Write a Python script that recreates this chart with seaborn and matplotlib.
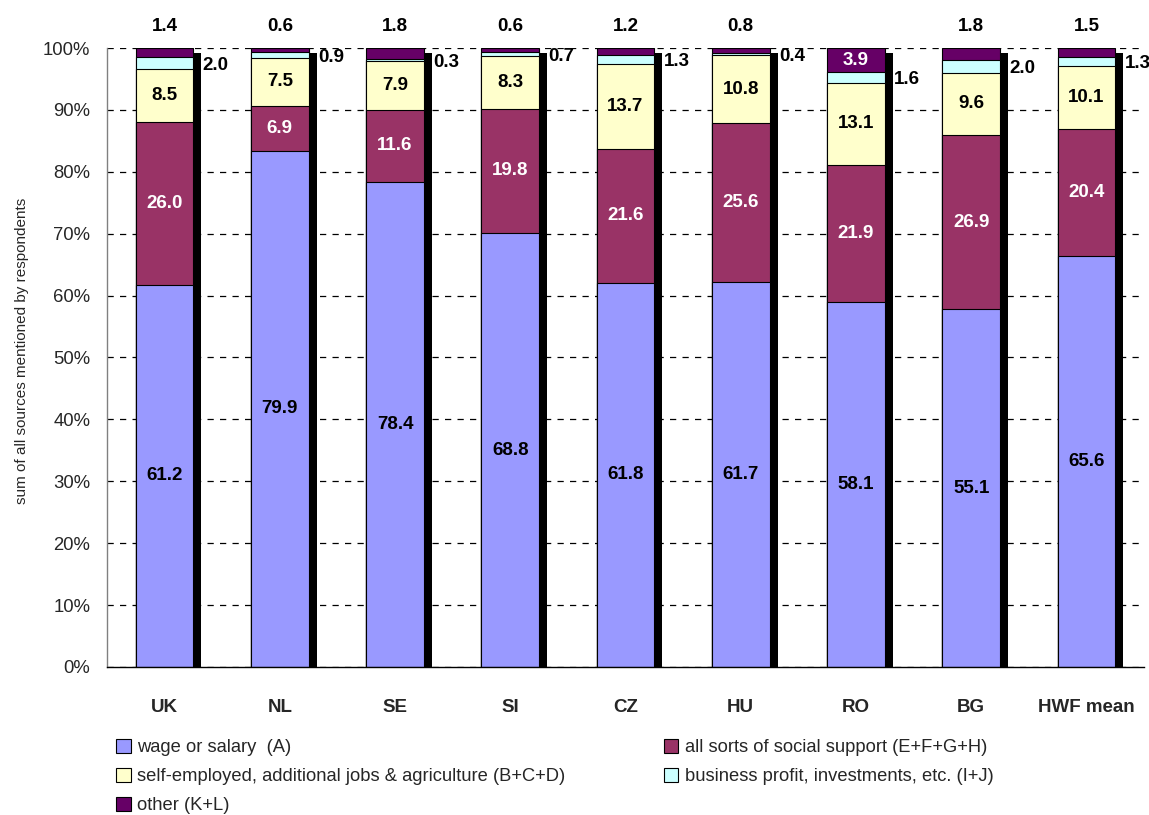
import numpy as np
import pandas as pd
import matplotlib
matplotlib.use("Agg")
import matplotlib.pyplot as plt
import seaborn as sns
from matplotlib.patches import Patch

# Income sources per country (values as reported)
countries = ["UK", "NL", "SE", "SI", "CZ", "HU", "RO", "BG", "HWF mean"]
wage = [61.2, 79.9, 78.4, 68.8, 61.8, 61.7, 58.1, 55.1, 65.6]
social = [26.0, 6.9, 11.6, 19.8, 21.6, 25.6, 21.9, 26.9, 20.4]
selfemp = [8.5, 7.5, 7.9, 8.3, 13.7, 10.8, 13.1, 9.6, 10.1]
business = [2.0, 0.9, 0.3, 0.7, 1.3, 0.4, 1.6, 2.0, 1.3]
other = [1.4, 0.6, 1.8, 0.6, 1.2, 0.8, 3.9, 1.8, 1.5]

series_labels = [
    "wage or salary  (A)",
    "all sorts of social support (E+F+G+H)",
    "self-employed, additional jobs & agriculture (B+C+D)",
    "business profit, investments, etc. (I+J)",
    "other (K+L)",
]
colors = ["#9999FF", "#993366", "#FFFFCC", "#CCFFFF", "#660066"]
label_colors = ["black", "white", "black", "black", "white"]

sns.set_style("white")
plt.rcParams["font.family"] = ["Liberation Sans", "DejaVu Sans"]

raw = pd.DataFrame(
    {
        "wage": wage,
        "social": social,
        "selfemp": selfemp,
        "business": business,
        "other": other,
    },
    index=countries,
)
share = raw.div(raw.sum(axis=1), axis=0) * 100
cum = share.cumsum(axis=1)
keys = list(raw.columns)

fig = plt.figure(figsize=(11.49, 8.15), dpi=100)
ax = fig.add_axes([0.0931, 0.1816, 0.9026, 0.7595])

x = np.arange(len(countries))
bar_w = 0.5

# drop shadow behind each column
ax.bar(x + 0.07, cum[keys[-1]].values - 0.8, width=bar_w, color="black",
       linewidth=0, zorder=1)

# stacked columns: draw cumulative tops from the highest layer down
for k, c in reversed(list(zip(keys, colors))):
    sns.barplot(x=countries, y=cum[k].values, color=c, saturation=1,
                width=bar_w, edgecolor="black", linewidth=0.8, ax=ax, zorder=2)

ax.set_ylim(0, 100)
ax.set_xlim(-0.5, len(countries) - 0.5)

# segment value labels
lab = dict(fontsize=13.5, fontweight="bold", zorder=5)
for i in range(len(countries)):
    lower = 0.0
    for j, k in enumerate(keys):
        top = cum[k].iloc[i]
        mid = (lower + top) / 2
        txt = f"{raw[k].iloc[i]:.1f}"
        if k == "business":
            ax.text(i + bar_w / 2 + 0.08, mid - 0.4, txt, ha="left",
                    va="center", color="black", clip_on=False, **lab)
        elif k == "other" and share[k].iloc[i] < 3:
            ax.text(i, 103.5, txt, ha="center", va="center", color="black",
                    clip_on=False, **lab)
        else:
            ax.text(i, mid, txt, ha="center", va="center",
                    color=label_colors[j], **lab)
        lower = top

# axes styling
ax.set_axisbelow(True)
ax.yaxis.grid(True, linestyle=(0, (5, 5)), color="black", linewidth=0.9)
ax.xaxis.grid(False)
for s in ["top", "right"]:
    ax.spines[s].set_visible(False)
ax.spines["left"].set_color("#808080")
ax.spines["bottom"].set_color("black")
ax.spines["left"].set_linewidth(1.0)
ax.spines["bottom"].set_linewidth(1.0)

yt = np.arange(0, 101, 10)
ax.set_yticks(yt)
ax.set_yticklabels([f"{v}%" for v in yt], fontsize=13.3)
ax.tick_params(axis="y", direction="out", length=7, width=1,
               color="#404040", pad=5)

ax.set_xticks(x)
ax.set_xticklabels(countries, fontsize=13.5, fontweight="bold")
ax.tick_params(axis="x", which="major", length=0, pad=23)
ax.set_xticks(np.arange(-0.5, len(countries), 1), minor=True)
ax.tick_params(axis="x", which="minor", direction="out", length=8,
               width=1, color="black")
ax.set_xlabel("")
ax.set_ylabel("sum of all sources mentioned by respondents", fontsize=11)
ax.yaxis.set_label_coords(-0.075, 0.51)

# legend in two columns
handles = [Patch(facecolor=c, edgecolor="black", linewidth=0.8) for c in colors]
common = dict(frameon=False, fontsize=13.2, handlelength=0.8,
              handleheight=0.8, handletextpad=0.35, labelspacing=0.64,
              borderpad=0, borderaxespad=0, loc="upper left")
fig.legend([handles[0], handles[2], handles[4]],
           [series_labels[0], series_labels[2], series_labels[4]],
           bbox_to_anchor=(0.1010, 0.0935), **common)
fig.legend([handles[1], handles[3]],
           [series_labels[1], series_labels[3]],
           bbox_to_anchor=(0.5775, 0.0935), **common)

fig.savefig("out.png", dpi=100)
